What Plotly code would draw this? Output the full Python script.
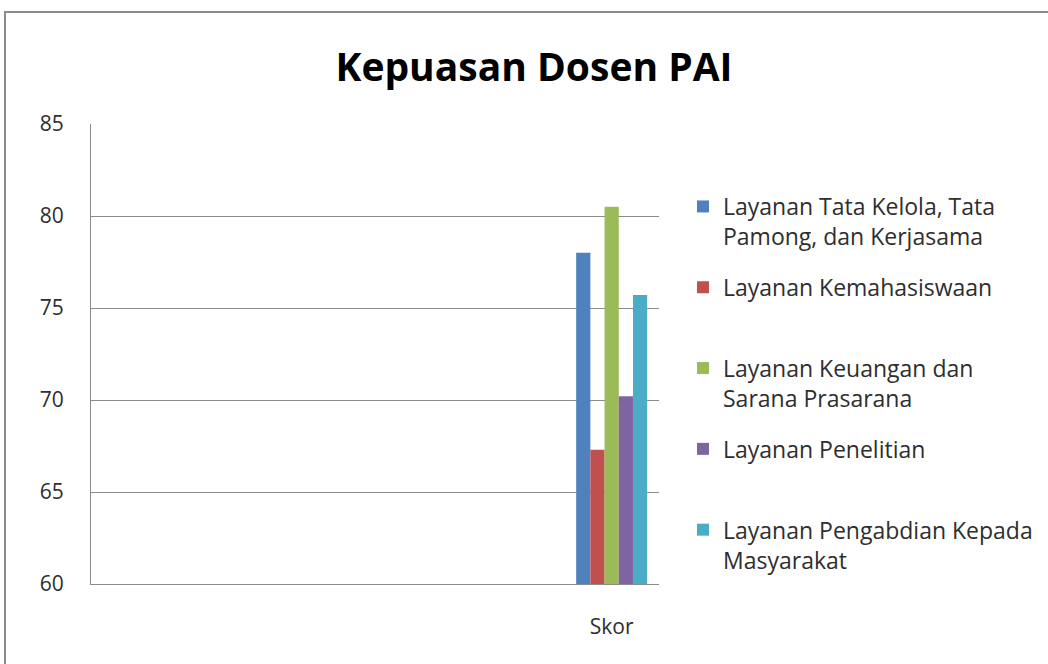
import plotly.graph_objects as go

categories = ["Skor"]
series_names = [
    "Layanan Tata Kelola, Tata<br>Pamong, dan Kerjasama",
    "Layanan Kemahasiswaan<br> ",
    "Layanan Keuangan dan<br>Sarana Prasarana",
    "Layanan Penelitian<br> ",
    "Layanan Pengabdian Kepada<br>Masyarakat",
]
series_values = [78.0, 67.3, 80.5, 70.2, 75.7]
colors = ["#4F81BD", "#C0504D", "#9BBB59", "#8064A2", "#4BACC6"]
y_ticks = [60, 65, 70, 75, 80, 85]

FONT = "'Open Sans', 'Noto Sans', sans-serif"
TXT = "#2e2e2e"
GRID = "#8c8c8c"

fig = go.Figure()
for i, (name, val) in enumerate(zip(series_names, series_values)):
    fig.add_trace(go.Bar(
        x=categories, y=[val], name=name,
        marker=dict(color=colors[i], line=dict(width=0)),
        legendgroup=f"g{i}",
    ))

L, R, T, B = 91, 389, 124, 80
pw = 1048 - L - R
ph = 664 - T - B

fig.update_layout(
    width=1048, height=664,
    margin=dict(l=L, r=R, t=T, b=B, pad=0, autoexpand=False),
    paper_bgcolor="white", plot_bgcolor="white",
    barmode="group", bargap=0.25, bargroupgap=0,
    font=dict(family=FONT, color=TXT, size=20),
    title=dict(text="<b>Kepuasan Dosen PAI</b>", x=534/1048, xanchor="center",
               y=1 - 67/664, yanchor="middle",
               font=dict(family=FONT, size=39, color="#000000")),
    xaxis=dict(type="category", range=[-5.5, 0.5], showgrid=False,
               showline=True, linecolor=GRID, linewidth=1, ticks="",
               tickfont=dict(size=21, color=TXT), ticklabelstandoff=24,
               fixedrange=True, automargin=False),
    yaxis=dict(range=[60, 85], tickvals=y_ticks, showgrid=True, gridcolor=GRID,
               gridwidth=1, showline=True, linecolor=GRID, linewidth=1,
               ticks="", zeroline=False, tickfont=dict(size=21, color=TXT),
               ticklabelstandoff=22, fixedrange=True, automargin=False),
    legend=dict(x=(683 - L) / pw, xanchor="left", y=(584 - 185) / ph, yanchor="top",
                font=dict(size=23, color=TXT, family=FONT), tracegroupgap=18,
                valign="top", bgcolor="rgba(0,0,0,0)", itemclick=False),
    showlegend=True,
)

fig.add_shape(type="rect", xref="paper", yref="paper",
              x0=(5 - L) / pw, x1=2.0, y0=-1.0, y1=(584 - 12) / ph,
              line=dict(color=GRID, width=2), fillcolor="rgba(0,0,0,0)", layer="below")

fig.write_html("out.html", config={"displayModeBar": False},
               post_script="document.body.style.margin='0';")
